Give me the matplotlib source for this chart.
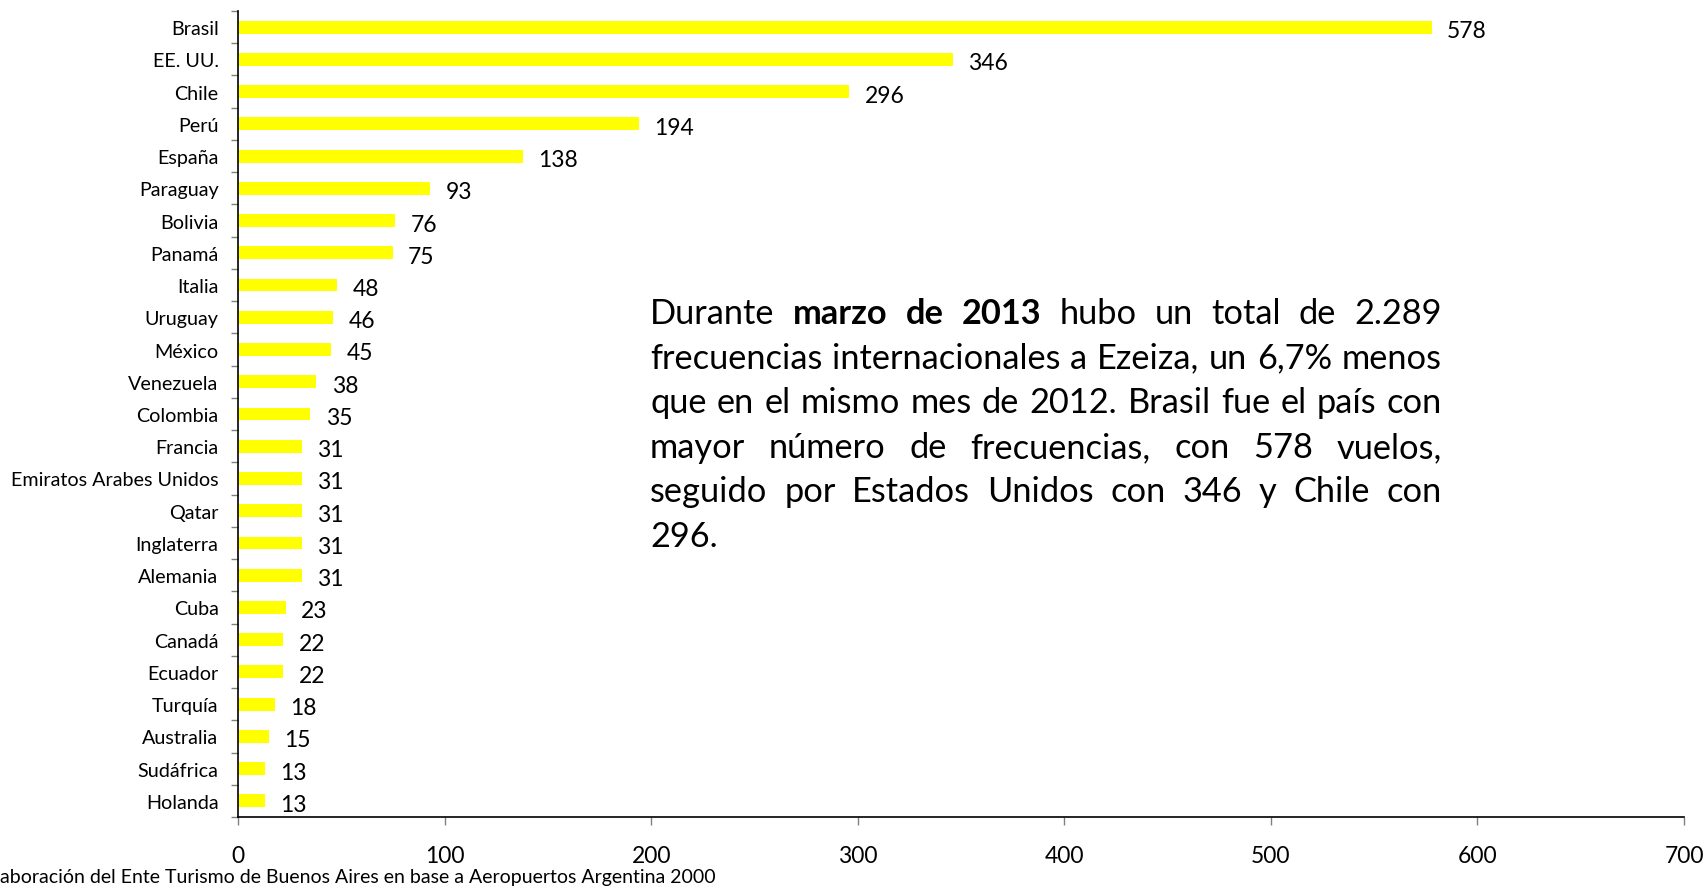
import matplotlib
matplotlib.use("Agg")
import matplotlib.pyplot as plt
from matplotlib.ticker import FixedLocator

plt.rcParams['font.family'] = ['Lato', 'DejaVu Sans']

paises = ['Brasil', 'EE. UU.', 'Chile', 'Perú', 'España', 'Paraguay', 'Bolivia',
          'Panamá', 'Italia', 'Uruguay', 'México', 'Venezuela', 'Colombia', 'Francia',
          'Emiratos Arabes Unidos', 'Qatar', 'Inglaterra', 'Alemania', 'Cuba', 'Canadá',
          'Ecuador', 'Turquía', 'Australia', 'Sudáfrica', 'Holanda']
frecuencias = [578, 346, 296, 194, 138, 93, 76, 75, 48, 46, 45, 38, 35, 31, 31, 31,
               31, 31, 23, 22, 22, 18, 15, 13, 13]
xticks = [0, 100, 200, 300, 400, 500, 600, 700]

# texto del recuadro, linea por linea como en el original (palabra, negrita)
lineas = [
    [('Durante', False), ('marzo', True), ('de', True), ('2013', True), ('hubo', False),
     ('un', False), ('total', False), ('de', False), ('2.289', False)],
    [(w, False) for w in 'frecuencias internacionales a Ezeiza, un 6,7% menos'.split()],
    [(w, False) for w in 'que en el mismo mes de 2012. Brasil fue el país con'.split()],
    [(w, False) for w in 'mayor número de frecuencias, con 578 vuelos,'.split()],
    [(w, False) for w in 'seguido por Estados Unidos con 346 y Chile con'.split()],
    [('296.', False)],
]
fuente = 'aboración del Ente Turismo de Buenos Aires en base a Aeropuertos Argentina 2000'

W, H = 1705, 887
fig = plt.figure(figsize=(W / 100, H / 100), dpi=100)
ax = fig.add_axes([238 / W, 1 - 818 / H, (1684 - 238) / W, (818 - 12) / H])

pos = list(range(len(paises)))
ax.barh(pos, frecuencias, height=0.4, color='#FFFF00')
for p, v in zip(pos, frecuencias):
    ax.annotate(str(v), (v, p), xytext=(11, -2.5), textcoords='offset points',
                va='center', ha='left', fontsize=16.5, color='black')

ax.set_xlim(0, 700)
ax.set_ylim(len(paises) - 0.5, -0.5)
ax.set_xticks(xticks)
ax.set_xticklabels([str(t) for t in xticks], fontsize=16.5)
ax.set_yticks(pos)
ax.set_yticklabels(paises, fontsize=14.2)
ax.yaxis.set_minor_locator(FixedLocator([p - 0.5 for p in pos] + [len(pos) - 0.5]))
ax.tick_params(axis='y', which='major', length=0, pad=14)
ax.tick_params(axis='y', which='minor', length=5, color='#808080', width=1)
ax.tick_params(axis='x', which='major', length=6, pad=14.5, color='#808080', width=1)
for s in ['top', 'right']:
    ax.spines[s].set_visible(False)
for s in ['left', 'bottom']:
    ax.spines[s].set_color('black')
    ax.spines[s].set_linewidth(1.2)

fig.text(0, 1 - 878 / H, fuente, fontsize=14, va='center', ha='left')

# texto justificado
fig.canvas.draw()
r = fig.canvas.get_renderer()
x0, x1 = 650, 1442
prueba = fig.text(0, 0, ' '.join(w for w, b in lineas[1]), fontsize=26, transform=None)
ancho = prueba.get_window_extent(r).width
prueba.remove()
fs = 26 * (x1 - x0) / (ancho * 1.01)
y_base = H - 324
paso = 44.6
for i, linea in enumerate(lineas):
    y = y_base - i * paso
    objs = [fig.text(0, y, w, fontsize=fs, fontweight='bold' if b else 'normal',
                     transform=None, va='baseline', ha='left') for w, b in linea]
    anchos = [o.get_window_extent(r).width for o in objs]
    if len(objs) > 1 and i < len(lineas) - 1:
        hueco = (x1 - x0 - sum(anchos)) / (len(objs) - 1)
    else:
        hueco = fs * 1.389 * 0.25
    x = x0
    for o, a in zip(objs, anchos):
        o.set_x(x)
        x += a + hueco

fig.savefig('out.png', dpi=100)
